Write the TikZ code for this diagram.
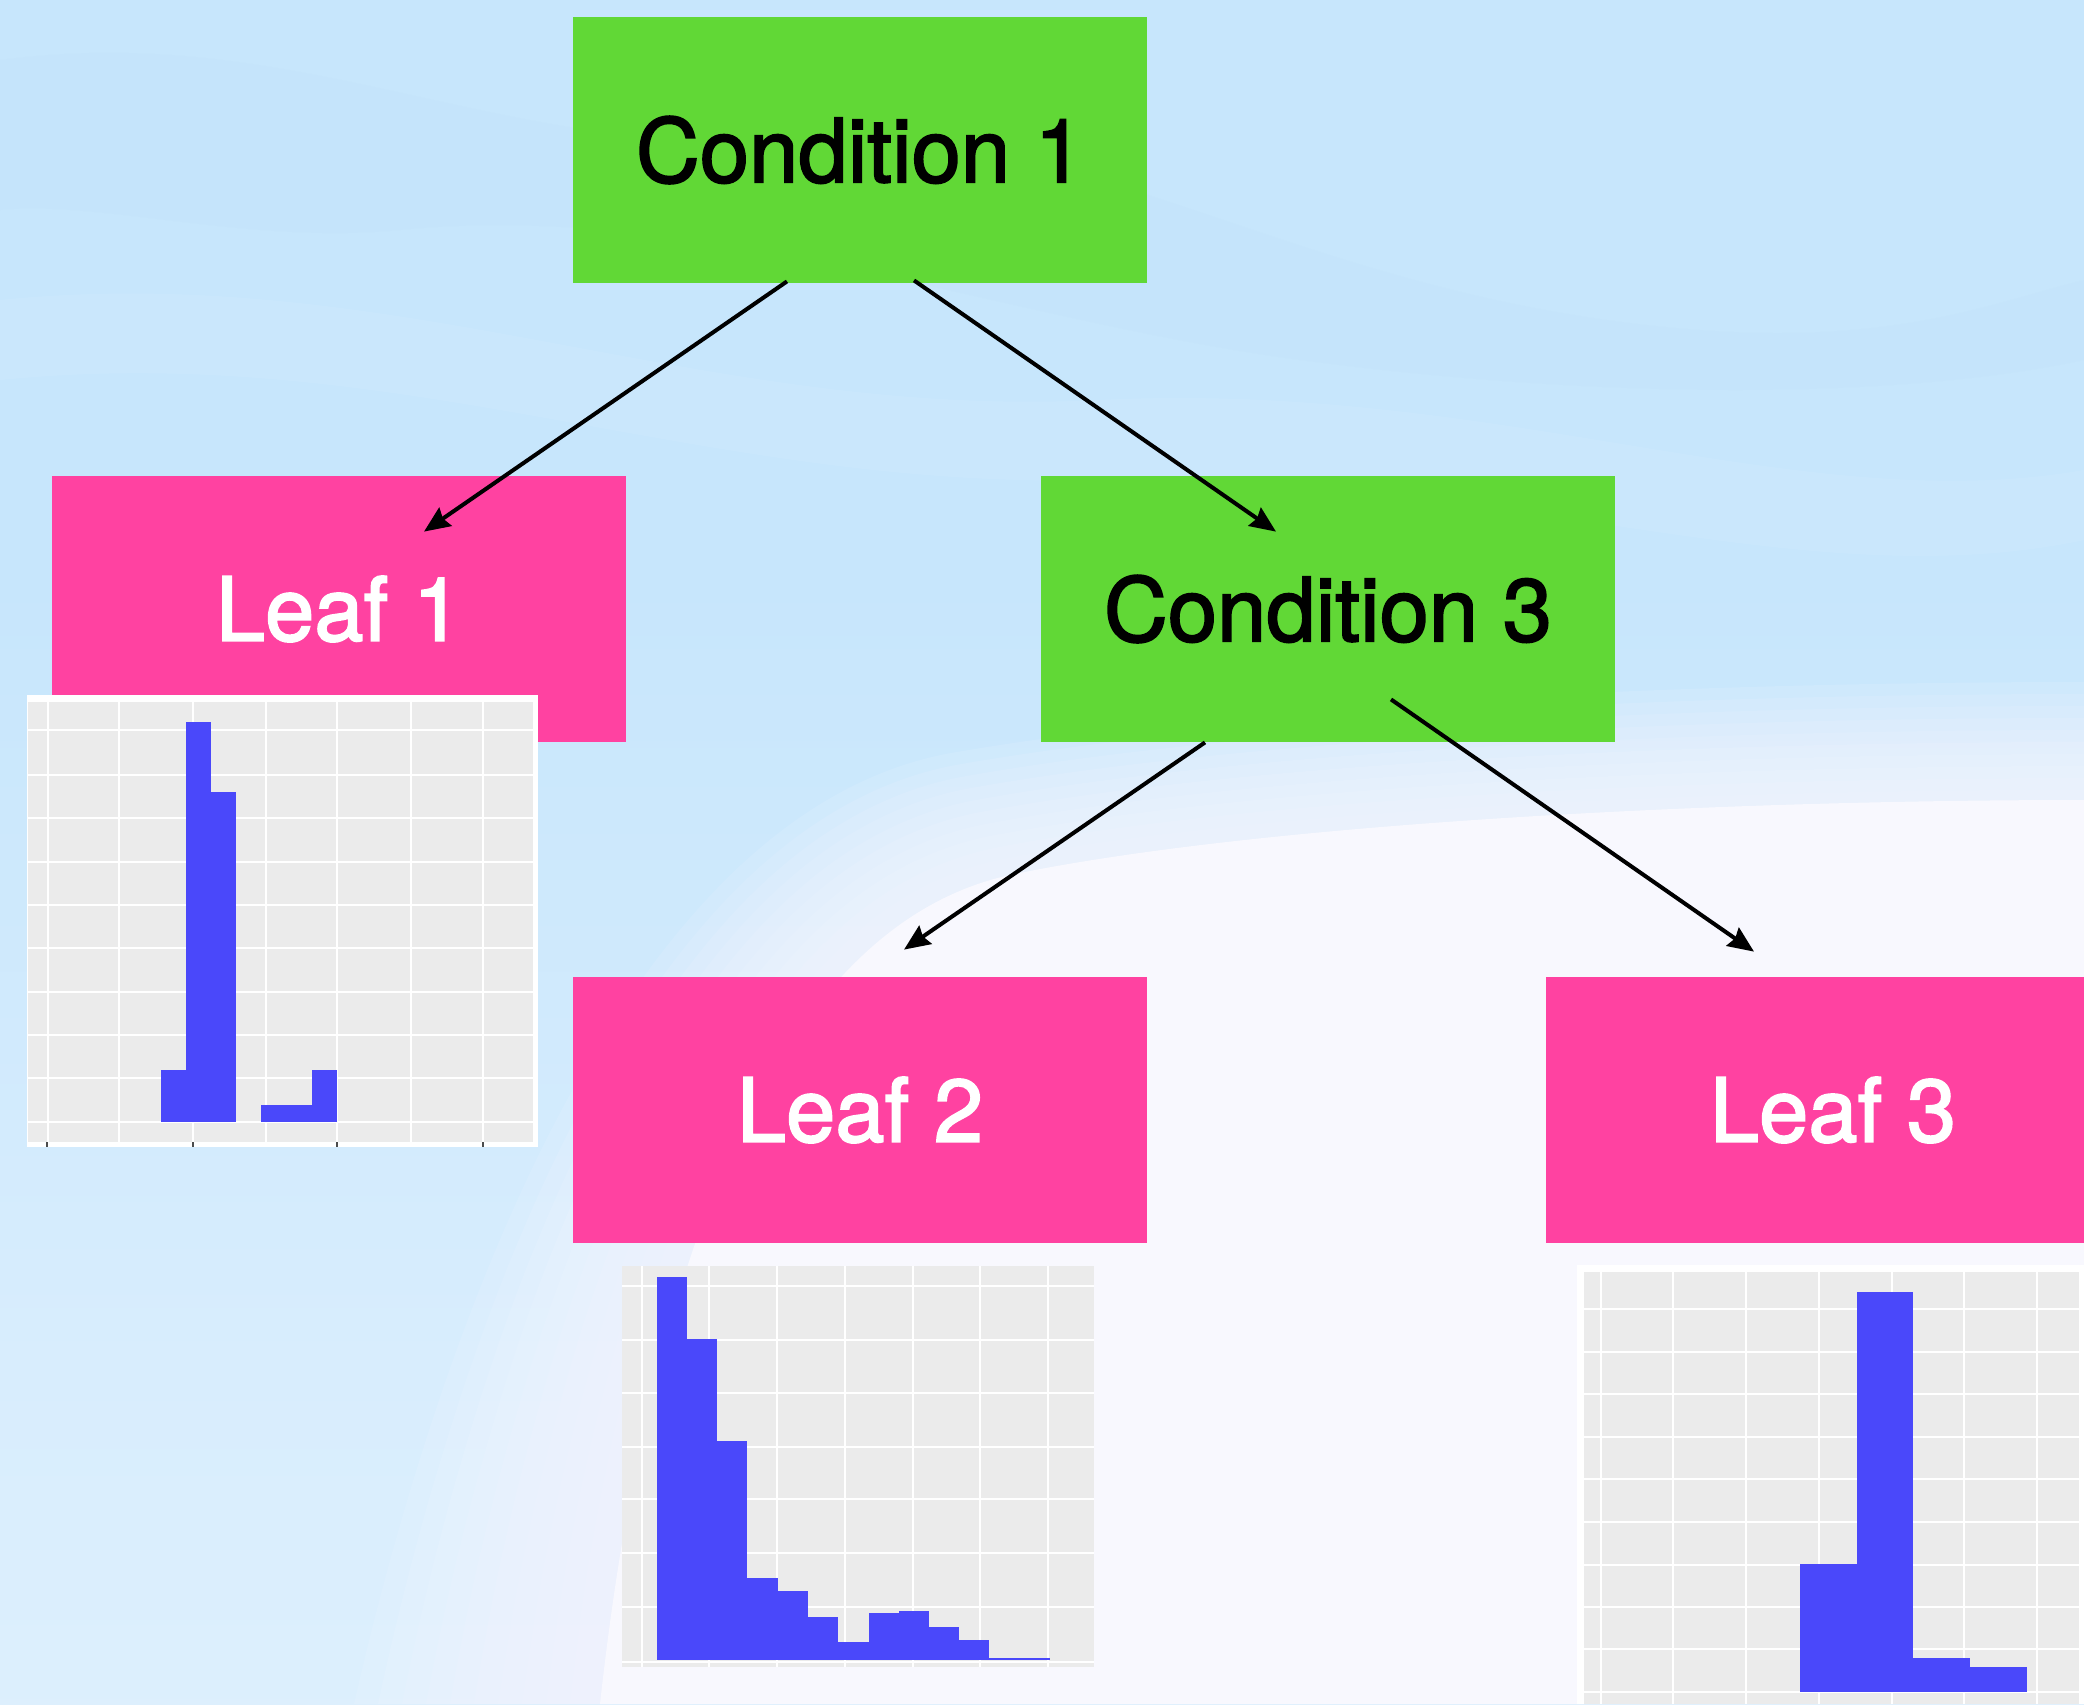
\documentclass[tikz,border=0pt]{standalone}
\usepackage{fontspec}
\setmainfont{TeX Gyre Heros}
\newfontfamily\boxfont{TeX Gyre Heros}[FakeBold=2]
\usetikzlibrary{arrows.meta,calc}
\definecolor{bgtop}{RGB}{199,230,252}
\definecolor{bgmid}{RGB}{216,237,253}
\definecolor{bgleft}{RGB}{232,244,254}
\definecolor{bgwave}{RGB}{190,222,251}
\definecolor{bglow}{RGB}{248,248,254}
\definecolor{condgreen}{RGB}{97,216,54}
\definecolor{leafpink}{RGB}{255,66,161}
\definecolor{barblue}{RGB}{74,72,250}
\definecolor{panelgrey}{RGB}{235,235,235}
\pgfdeclareverticalshading{pagebg}{100bp}{color(0bp)=(bgleft); color(35bp)=(bgmid); color(58bp)=(bgtop); color(100bp)=(bgtop)}
\begin{document}
\begin{tikzpicture}[x=0.5pt,y=-0.5pt,
  box/.style={rectangle,minimum width=287pt,minimum height=133pt,inner sep=0pt,
    font=\boxfont\fontsize{44.3}{50}\selectfont},
  cond/.style={box,fill=condgreen,text=black},
  leaf/.style={box,fill=leafpink,text=white},
  arr/.style={line width=2pt,-{Stealth[length=13pt,width=11pt,inset=1.5pt]}},
  gridline/.style={white,line width=1.3pt},
  bar/.style={fill=barblue}]
\clip (0,0) rectangle (2084,1704);
% ---------- background ----------
\shade[shading=pagebg] (0,0) rectangle (2084,1704);
\fill[bgwave,opacity=0.15] (0,60) .. controls (300,20) and (500,160) .. (800,140) .. controls (1100,120) and (1300,300) .. (1700,330) .. controls (1900,345) and (2000,300) .. (2084,280) -- (2084,360) .. controls (1900,400) and (1600,400) .. (1300,360) .. controls (1000,320) and (700,200) .. (400,230) .. controls (250,245) and (100,200) .. (0,210) -- cycle;
\fill[white,opacity=0.07] (0,300) .. controls (400,260) and (700,420) .. (1100,400) .. controls (1500,380) and (1800,520) .. (2084,470) -- (2084,540) .. controls (1800,600) and (1500,470) .. (1100,480) .. controls (700,490) and (400,340) .. (0,380) -- cycle;
\foreach \d in {0,12,...,108}
  \fill[bglow,opacity=0.13] (2084,790-\d) .. controls (1700,790-\d) and (1250,810-\d) .. (1000-0.4*\d,860-\d) .. controls (760-\d,910-\d) and (620-1.5*\d,1250) .. (570-2*\d,1704) -- (2084,1704) -- cycle;
\fill[bglow] (2084,800) .. controls (1700,800) and (1250,825) .. (1010,875) .. controls (780,925) and (650,1250) .. (600,1704) -- (2084,1704) -- cycle;
% ---------- nodes ----------
\node[cond] (c1) at (860,150) {Condition 1};
\node[leaf] (leaf1) at (339,609) {Leaf 1};
\node[cond] (c3) at (1328,609) {Condition 3};
\node[leaf] (leaf2) at (860,1110) {Leaf 2};
\node[leaf] (leaf3) at (1833,1110) {Leaf 3};
% ---------- connectors ----------
\draw[arr] ($(c1.south)+(-73,-2)$) -- ($(leaf1.north)+(85,56)$);
\draw[arr] ($(c1.south)+(54,-3)$) -- ($(c3.north)+(-52,56)$);
\draw[arr] ($(c3.south)+(-123,0)$) -- ($(leaf2.north)+(44,-27)$);
\draw[arr] ($(c3.south)+(63,-43)$) -- ($(leaf3.north)+(-79,-25)$);
% ---------- histogram 1 ----------
\fill[white] (27,695) rectangle (538,1147);
\fill[panelgrey] (28,702) rectangle (533,1142);
\foreach \x in {48,119,193,266,337,411,483} \draw[gridline] (\x,702) -- (\x,1142);
\foreach \y in {730,775,818,862,905,948,992,1035,1078,1122} \draw[gridline] (28,\y) -- (533,\y);
\foreach \a/\b/\t in {161/186/1070,186/211/722,211/236/792,261/287/1105,287/312/1105,312/337/1070}
  \fill[bar] (\a,\t) rectangle (\b,1122);
\foreach \x in {47,193,337,483} \fill[black!70] (\x-1,1142) rectangle (\x+1,1147);
% ---------- histogram 2 ----------
\fill[panelgrey] (622,1266) rectangle (1094,1667);
\foreach \x in {642,709,777,845,913,980,1048} \draw[gridline] (\x,1266) -- (\x,1667);
\foreach \y in {1286,1340,1393,1447,1499,1553,1607,1662} \draw[gridline] (622,\y) -- (1094,\y);
\foreach \a/\b/\t in {657/687/1277,687/717/1339,717/747/1441,747/778/1578,778/808/1591,808/838/1617,838/869/1642,869/899/1613,899/929/1611,929/959/1627,959/989/1640,989/1050/1658}
  \fill[bar] (\a,\t) rectangle (\b,1660);
% ---------- histogram 3 ----------
\fill[white] (1577,1265) rectangle (2084,1704);
\fill[panelgrey] (1584,1272) rectangle (2079,1704);
\foreach \x in {1601,1673,1746,1819,1892,1964,2037} \draw[gridline] (\x,1272) -- (\x,1704);
\foreach \y in {1309,1352,1394,1437,1479,1522,1565,1607,1649,1692} \draw[gridline] (1584,\y) -- (2079,\y);
\foreach \a/\b/\t in {1800/1857/1564,1857/1913/1292,1913/1970/1658,1970/2027/1667}
  \fill[bar] (\a,\t) rectangle (\b,1692);
\end{tikzpicture}
\end{document}
